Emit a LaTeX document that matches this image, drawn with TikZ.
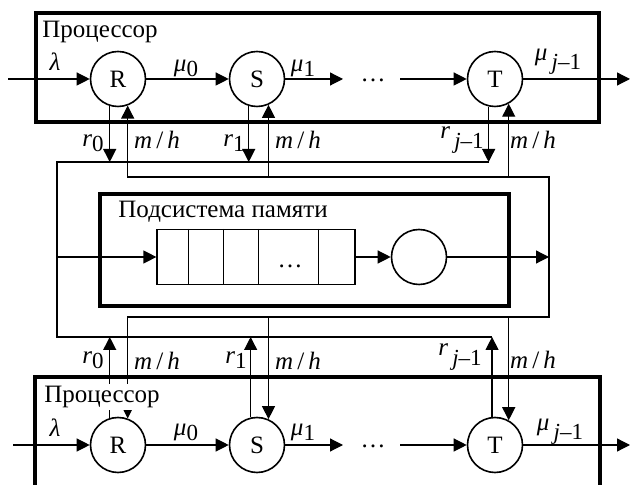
\documentclass[tikz,border=0pt]{standalone}
\usepackage{fontspec}
\setmainfont{Liberation Serif}
\usetikzlibrary{arrows.meta}
\newcommand{\lsub}[1]{\raisebox{-0.45ex}{\fontsize{11.5}{12}\selectfont #1}}
\newcommand{\mh}{\textit{m}\,/\,\textit{h}}
\begin{document}
\begin{tikzpicture}[x=0.5pt,y=-0.5pt,
  font=\fontsize{12.5}{14}\selectfont,
  line/.style={line width=0.6pt},
  arr/.style={line width=0.6pt,-{Triangle[length=6.5pt,width=6.5pt]}},
  frame/.style={draw,line width=1.6pt},
  st/.style={draw,circle,line width=0.8pt,minimum size=27.5pt,inner sep=0pt},
  lbl/.style={inner sep=0pt}]
\useasboundingbox (0,0) rectangle (631,485);
\clip (0,0) rectangle (631,485);

% ---------- top processor ----------
\draw[frame] (36,13) rectangle (599,122);
\node[anchor=west,inner sep=0pt] (P1) at (42,32) {Процессор};
\node[st] (R1) at (118,79) {R};
\node[st] (S1) at (257,79) {S};
\node[st] (T1) at (495,79) {T};
\coordinate (in1) at (8,79);
\coordinate (d1a) at (343,79);
\coordinate (d1b) at (400,79);
\coordinate (out1) at (630,79);
\node (dots1) at (373,80) {\dots};
\draw[arr] (in1) -- (R1);
\draw[arr] (R1) -- (S1);
\draw[arr] (S1) -- (d1a);
\draw[arr] (d1b) -- (T1);
\draw[arr] (T1) -- (out1);
\node[lbl] at (55,62) {\textit{λ}};
\node[lbl] at (186,68) {\textit{μ}\lsub{0}};
\node[lbl] at (303,68) {\textit{μ}\lsub{1}};
\node[lbl] at (558,62) {\raisebox{0.3ex}{\textit{μ}}\,\lsub{\textit{j}–1}};

% ---------- loops ----------
\coordinate (A1) at (57,162);
\coordinate (A2) at (57,337);
\coordinate (B1) at (127,177);
\coordinate (B2) at (127,317);
\coordinate (Ain) at (57,257);
\coordinate (Bout) at (549,257);
\draw[line] (489,162) -- (A1) -- (A2) -- (492,337);
\draw[line] (B1) -- (549,177) -- (549,317) -- (B2);

% top verticals
\draw[arr] (R1.-107) -- (R1.-107 |- A1);
\draw[arr] (R1.-70 |- B1) -- (R1.-70);
\draw[arr] (S1.-107) -- (S1.-107 |- A1);
\draw[arr] (S1.-66 |- B1) -- (S1.-66);
\draw[arr] (T1.-103) -- (T1.-103 |- A1);
\draw[arr] (T1.-61 |- B1) -- (T1.-61);
\node[lbl] at (93,143) {\textit{r}\lsub{0}};
\node[lbl] at (157,140) {\mh};
\node[lbl] at (234,143) {\textit{r}\lsub{1}};
\node[lbl] at (298,140) {\mh};
\node[lbl] at (462,140) {\raisebox{0.4ex}{\textit{r}}\,\lsub{\textit{j}–1}};
\node[lbl] at (533,140) {\mh};

% ---------- memory subsystem ----------
\draw[frame] (100,194) rectangle (509,306);
\node[anchor=west,inner sep=0pt] (PM) at (118,212) {Подсистема памяти};
\node[draw,line,minimum width=99pt,minimum height=27.5pt,inner sep=0pt] (Q) at (256,257) {};
\draw[line] (Q.north west) ++(32,0) -- ++(0,55);
\draw[line] (Q.north west) ++(67,0) -- ++(0,55);
\draw[line] (Q.north west) ++(102,0) -- ++(0,55);
\draw[line] (Q.north west) ++(162,0) -- ++(0,55);
\node at (290,266) {\dots};
\node[st] (M) at (419,257) {};
\draw[arr] (Ain) -- (Q);
\draw[arr] (Q) -- (M);
\draw[arr] (M) -- (Bout);

% ---------- bottom processor ----------
\draw[frame] (35,377) rectangle (600,540);
\node[st] (R2) at (118,445) {R};
\node[st] (S2) at (257,445) {S};
\node[st] (T2) at (495,445) {T};
\coordinate (in2) at (13,445);
\coordinate (d2a) at (343,445);
\coordinate (d2b) at (400,445);
\coordinate (out2) at (630,445);
\node (dots2) at (373,446) {\dots};
\draw[arr] (in2) -- (R2);
\draw[arr] (R2) -- (S2);
\draw[arr] (S2) -- (d2a);
\draw[arr] (d2b) -- (T2);
\draw[arr] (T2) -- (out2);

\draw[arr] (R2.107) -- (R2.107 |- A2);
\draw[arr] (R2.70 |- B2) -- (R2.70);
\draw[arr] (S2.103) -- (S2.103 |- A2);
\draw[arr] (S2.66 |- B2) -- (S2.66);
\draw[arr] (T2.96) -- (T2.96 |- A2);
\draw[arr] (T2.61 |- B2) -- (T2.61);
\node[anchor=west,inner sep=1pt,fill=white] (P2) at (42,397) {Процессор};

\node[lbl] at (55,428) {\textit{λ}};
\node[lbl] at (186,432) {\textit{μ}\lsub{0}};
\node[lbl] at (303,432) {\textit{μ}\lsub{1}};
\node[lbl] at (560,432) {\raisebox{0.3ex}{\textit{μ}}\,\lsub{\textit{j}–1}};
\node[lbl] at (93,360) {\textit{r}\lsub{0}};
\node[lbl] at (157,361) {\mh};
\node[lbl] at (236,360) {\textit{r}\lsub{1}};
\node[lbl] at (298,361) {\mh};
\node[lbl] at (460,357) {\raisebox{0.4ex}{\textit{r}}\,\lsub{\textit{j}–1}};
\node[lbl] at (533,360) {\mh};
\end{tikzpicture}
\end{document}
